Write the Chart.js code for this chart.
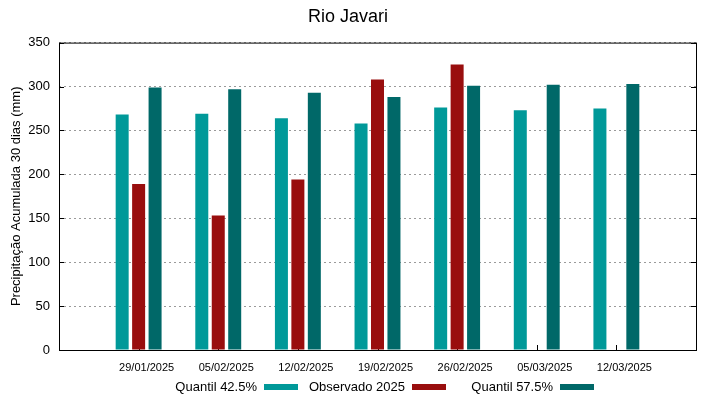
<!DOCTYPE html>
<html>
<head>
<meta charset="utf-8">
<script src="https://cdn.jsdelivr.net/npm/chart.js@4"></script>
<style>
  html, body { margin: 0; padding: 0; background: #fff; }
  #box { position: relative; width: 719px; height: 399px; }
  #legenda {
    position: absolute; left: 150px; top: 379px;
    display: flex; align-items: center;
    font: 13px 'Liberation Sans', Arial, sans-serif; color: #000;
  }
  #legenda .item { display: flex; align-items: center; width: 148px; }
  #legenda .txt { width: 107px; text-align: right; white-space: nowrap; }
  #legenda .cor { display: inline-block; width: 34px; height: 6px; margin-left: 7px; }
</style>
</head>
<body>
<div id="box"><canvas id="grafico"></canvas><div id="legenda"></div></div>
<script>
// dados
const datas = ['29/01/2025', '05/02/2025', '12/02/2025', '19/02/2025', '26/02/2025', '05/03/2025', '12/03/2025']
const quantil425 = [268, 269, 264, 258, 276, 273, 275]
const observado = [189, 153, 194, 308, 325, null, null]
const quantil575 = [299, 297, 293, 288, 301, 302, 303]
const yTicks = [0, 50, 100, 150, 200, 250, 300, 350]

// uma categoria vazia em cada ponta, como no gnuplot
const pad = arr => [null, ...arr, null]
const labels = ['', ...datas, '']

Chart.defaults.font.family = "'Liberation Sans', Arial, sans-serif"
Chart.defaults.color = '#000'

// moldura e tracinhos internos (antes das barras, que cobrem os tracinhos)
const moldura = {
  id: 'moldura',
  beforeDatasetsDraw(chart) {
    const { ctx, chartArea: a, scales } = chart
    ctx.save()
    ctx.strokeStyle = '#000'
    ctx.lineWidth = 1
    ctx.strokeRect(a.left + 0.5, a.top + 0.5, a.right - a.left, a.bottom - a.top)
    ctx.beginPath()
    yTicks.forEach(v => {
      const y = Math.round(scales.y.getPixelForValue(v)) + 0.5
      ctx.moveTo(a.left, y); ctx.lineTo(a.left + 5, y)
      ctx.moveTo(a.right, y); ctx.lineTo(a.right - 5, y)
    })
    datas.forEach((d, i) => {
      const x = Math.round(scales.x.getPixelForValue(i + 1)) + 0.5
      ctx.moveTo(x, a.bottom); ctx.lineTo(x, a.bottom - 5)
    })
    ctx.stroke()
    ctx.restore()
  }
}

const data = {
  labels,
  datasets: [
    { label: 'Quantil 42.5%', data: pad(quantil425), backgroundColor: '#009999' },
    { label: 'Observado 2025', data: pad(observado), backgroundColor: '#990e0e' },
    { label: 'Quantil 57.5%', data: pad(quantil575), backgroundColor: '#006868' }
  ]
}

const config = {
  type: 'bar',
  data,
  options: {
    responsive: true,
    maintainAspectRatio: false,
    animation: false,
    layout: { padding: { left: 0, right: 23, top: 0, bottom: 21 } },
    datasets: { bar: { categoryPercentage: 0.62, barPercentage: 0.79 } },
    scales: {
      x: {
        offset: false,
        grid: { display: false },
        border: { display: false },
        ticks: { font: { size: 11 }, labelOffset: 8, padding: 3, maxRotation: 0, autoSkip: false },
        afterFit(s) { s.height = 28 }
      },
      y: {
        min: 0, max: 350,
        afterBuildTicks(s) { s.ticks = yTicks.map(v => ({ value: v })) },
        grid: { color: '#9a9a9a', lineWidth: 1, drawTicks: false },
        border: { display: false, dash: [2, 3] },
        ticks: { font: { size: 13 }, padding: 9 },
        title: { display: true, text: 'Precipitação Acumulada 30 dias (mm)', font: { size: 13 }, padding: { top: 9, bottom: 2 } },
        afterFit(s) { s.width = 59 }
      }
    },
    plugins: {
      title: { display: true, text: 'Rio Javari', font: { size: 18, weight: 'normal' }, padding: { top: 6, bottom: 15 } },
      legend: { display: false },
      tooltip: { enabled: false }
    }
  },
  plugins: [moldura]
}

const graph = new Chart(document.getElementById('grafico'), config)

// legenda no estilo gnuplot: texto alinhado a direita e depois a amostra
const legenda = document.getElementById('legenda')
data.datasets.forEach(ds => {
  const item = document.createElement('span')
  item.className = 'item'
  const txt = document.createElement('span')
  txt.className = 'txt'
  txt.textContent = ds.label
  const cor = document.createElement('span')
  cor.className = 'cor'
  cor.style.background = ds.backgroundColor
  item.append(txt, cor)
  legenda.append(item)
})
</script>
</body>
</html>
